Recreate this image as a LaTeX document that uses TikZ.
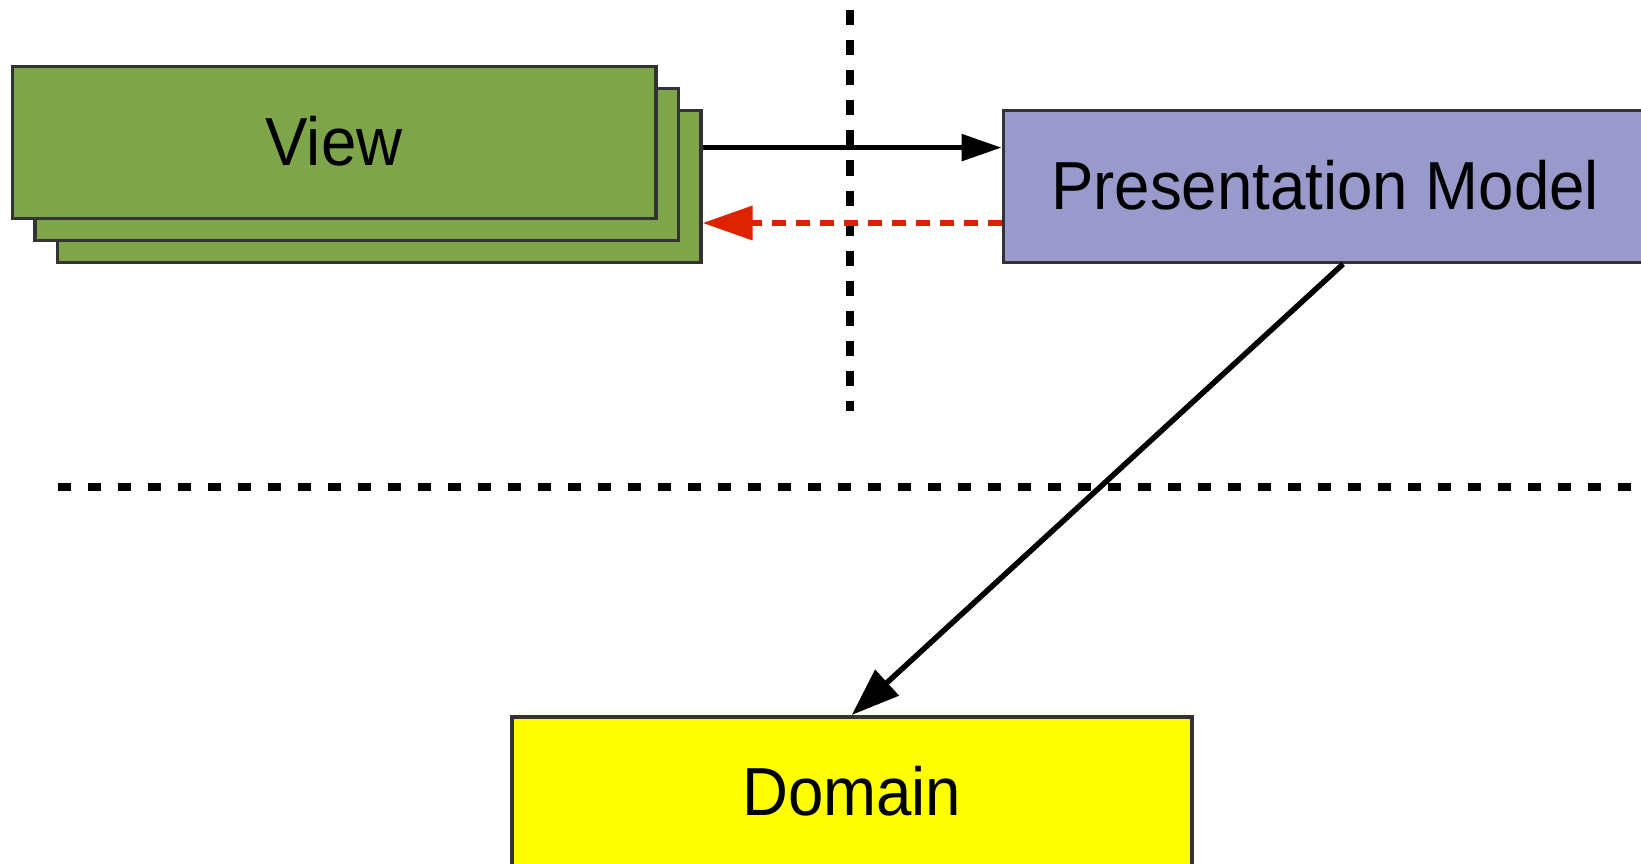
\documentclass[tikz,border=0pt]{standalone}
\usepackage{fontspec}
\setmainfont{Liberation Sans}
\usetikzlibrary{arrows.meta,calc}

\definecolor{viewgreen}{HTML}{7EA54A}
\definecolor{pmblue}{HTML}{9999CC}
\definecolor{domyellow}{HTML}{FFFF00}
\definecolor{edge}{HTML}{333333}
\definecolor{backred}{HTML}{DD2200}

\newcommand{\lbl}[1]{\raisebox{3pt}{\fontsize{68}{68}\selectfont\scalebox{0.935}[1]{#1}}}

\tikzset{
  layerbox/.style={draw=edge, line width=3.5pt, rectangle, inner sep=0pt,
    minimum width=643.5pt, minimum height=151.5pt, anchor=north west},
  callarrow/.style={line width=5.5pt, -{Triangle[length=40pt,width=26pt]}},
  backarrow/.style={draw=backred, line width=6.5pt, dash pattern=on 14pt off 10pt,
    -{Triangle[length=50pt,width=33pt]}},
  usesarrow/.style={line width=5.5pt, -{Triangle[length=48pt,width=34pt]}},
  vsplit/.style={line width=7.5pt, dash pattern=on 15pt off 15pt},
  hsplit/.style={line width=7.5pt, dash pattern=on 13pt off 17pt}
}

\begin{document}
\begin{tikzpicture}[x=1pt, y=-1pt]
  \useasboundingbox (0,0) rectangle (1641,864);
  \clip (0,0) rectangle (1641,864);
  \fill[white] (0,0) rectangle (1641,864);

  % stacked views, back to front
  \node[layerbox, fill=viewgreen] (view3) at (55.5,109) {};
  \node[layerbox, fill=viewgreen] (view2) at (33,87) {};
  \node[layerbox, fill=viewgreen] (view1) at (10.5,65) {\lbl{View}};

  % presentation model and domain
  \node[layerbox, fill=pmblue] (pm) at (1001.6,109) {\lbl{Presentation Model}};
  \node[layerbox, fill=domyellow, minimum width=680pt] (dom) at (510,715) {\lbl{Domain}};

  % layer separators
  \coordinate (vtop) at (850,10.5);
  \coordinate (vbot) at (850,411);
  \coordinate (hleft) at (57.5,487);
  \coordinate (hright) at (1645,487);
  \draw[vsplit] (vtop) -- (vbot);
  \draw[hsplit] (hleft) -- (hright);

  % view <-> presentation model
  \coordinate (cally) at (0,147.6);
  \coordinate (backy) at (0,223);
  \draw[callarrow] (view3.east |- cally) -- (pm.west |- cally);
  \draw[backarrow] (pm.west |- backy) -- (view3.east |- backy);

  % presentation model -> domain
  \draw[usesarrow] ($(pm.south)+(18,0)$) -- (dom.north);
\end{tikzpicture}
\end{document}
